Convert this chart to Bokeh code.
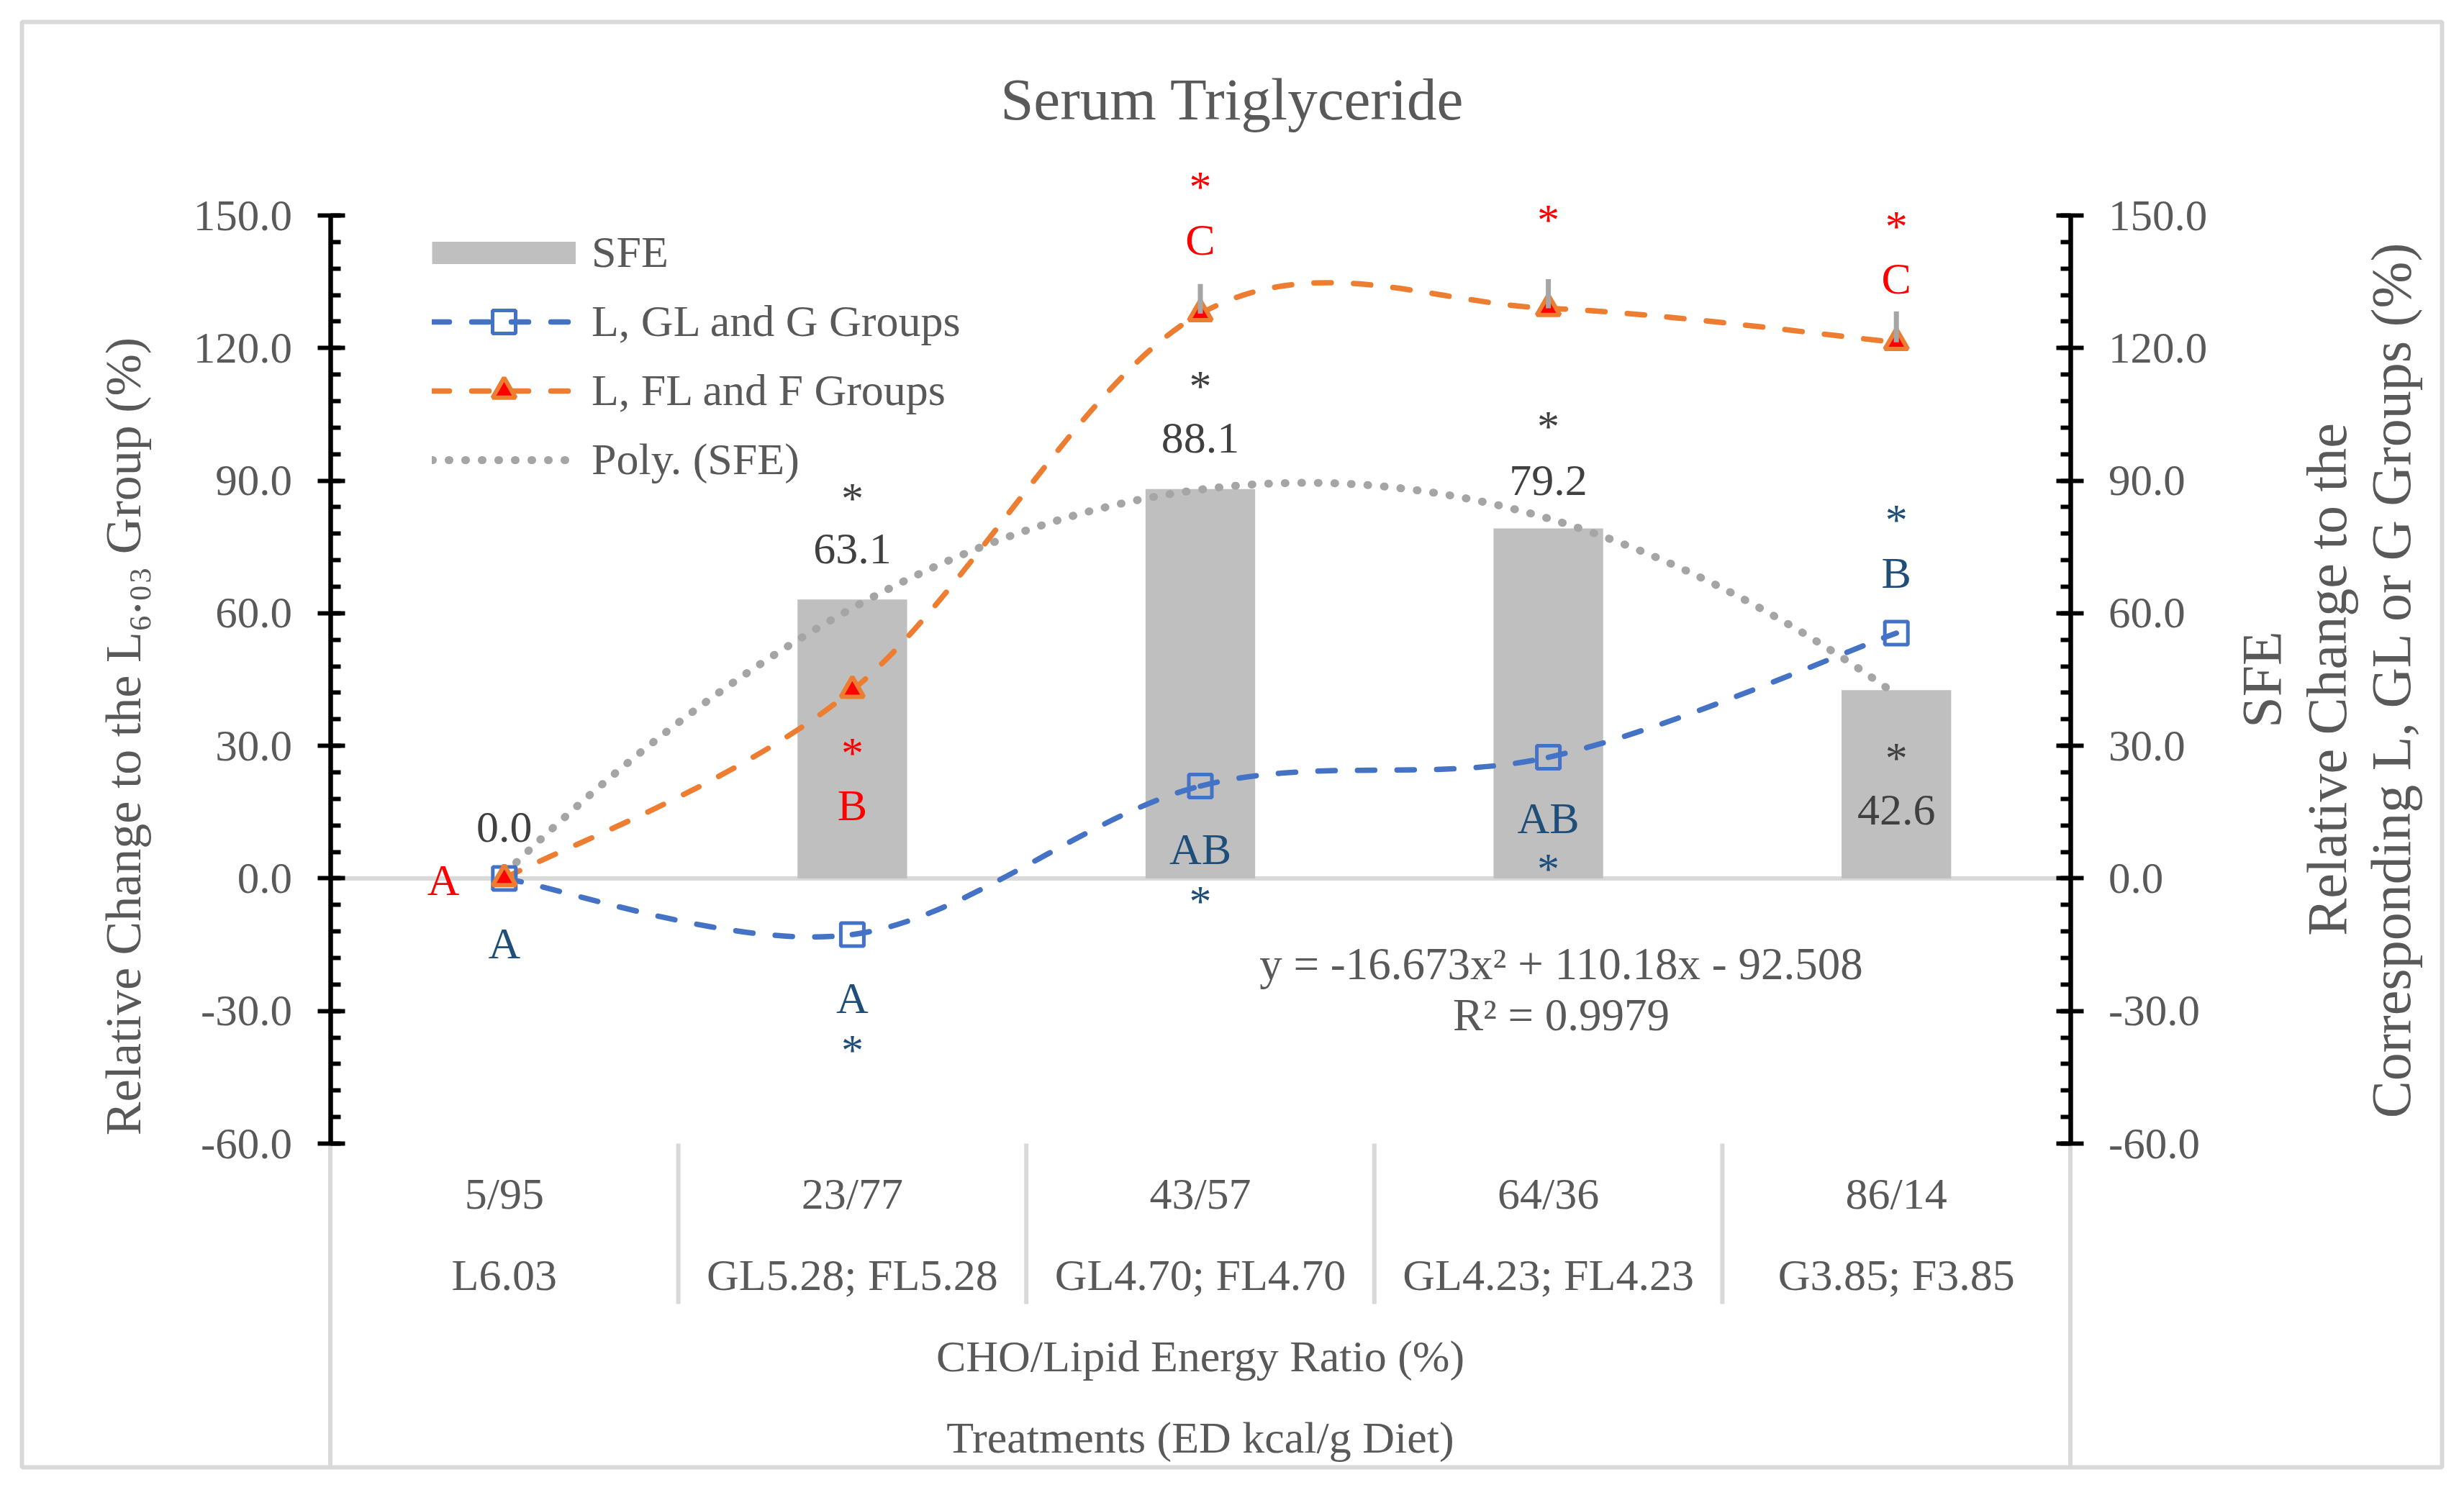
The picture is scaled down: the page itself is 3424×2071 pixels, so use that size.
import math
from bokeh.plotting import figure
from bokeh.models import (Range1d, LinearAxis, FixedTicker, NumeralTickFormatter,
                          Legend, LegendItem)
from bokeh.core.properties import value
from bokeh.embed import file_html
from bokeh.resources import INLINE

# ------------------------------------------------------------------ data
ratio_labels = ["5/95", "23/77", "43/57", "64/36", "86/14"]
treat_labels = ["L6.03", "GL5.28; FL5.28", "GL4.70; FL4.70", "GL4.23; FL4.23", "G3.85; F3.85"]
sfe = [0.0, 63.1, 88.1, 79.2, 42.6]
glg = [0.0, -12.7, 20.9, 27.4, 55.5]
flf = [0.0, 42.6, 127.8, 129.0, 121.3]
flf_err = [0.0, 0.0, 6.7, 6.6, 7.0]
poly_coef = [-16.673, 110.18, -92.508]
r_squared = "0.9979"
y_ticks = [-60, -30, 0, 30, 60, 90, 120, 150]

flf_letters = ["A", "B", "C", "", "C"]
glg_letters = ["A", "A", "AB", "AB", "B"]
sfe_stars = ["", "*", "*", "*", "*"]
flf_stars = ["", "*", "*", "*", "*"]
glg_stars = ["", "*", "*", "*", "*"]

# ------------------------------------------------------------------ annotation layout (centres, data units)
flf_letter_x = [-0.175, 1, 2, 3, 4]
flf_letter_y = [-0.4, 16.6, 144.6, 0.0, 135.7]
flf_star_y = [0.0, 29.8, 157.9, 150.4, 148.9]
glg_letter_y = [-14.6, -27.0, 6.6, 13.6, 69.1]
glg_star_y = [0.0, -37.4, -3.8, 3.5, 82.5]
sfe_star_y = [0.0, 87.4, 112.8, 103.7, 28.6]
sfe_label_y = [11.6, 74.5, 99.6, 90.0, 15.4]

# ------------------------------------------------------------------ styling
FONT = "Liberation Serif"
GREY_TXT = "#595959"
DARK_TXT = "#404040"
RED = "#FF0000"
NAVY = "#1F4E79"
BLUE = "#4472C4"
ORANGE = "#ED7D31"
BAR = "#BFBFBF"
TREND = "#A5A5A5"
RULE = "#D9D9D9"
DASH = "24 31"
DOTS = "1 22"

# page geometry (page pixels; the canvas starts at the page origin)
W, H = 3408, 2055
ORG = 0.0
AX_L = 458.5          # page x of the left value axis (category -0.5)
CAT_W = 483.6         # pixels per category
Y150 = 299.0          # page y of the 150 gridline
PX = 6.1429           # pixels per data unit

x_start = -0.5 - (AX_L - ORG) / CAT_W
x_end = x_start + W / CAT_W
y_end = 150.0 + (Y150 - ORG) / PX
y_start = y_end - H / PX

def X(page_x):
    return x_start + (page_x - ORG) / CAT_W

def Y(page_y):
    return y_end - (page_y - ORG) / PX

idx = list(range(len(sfe)))

p = figure(width=W, height=H, x_range=Range1d(x_start, x_end), y_range=Range1d(y_start, y_end),
           x_axis_location=None, y_axis_location=None, toolbar_location=None,
           output_backend="svg", min_border=0)
p.outline_line_color = None
p.background_fill_color = "white"
p.border_fill_color = "white"
p.grid.visible = False

# ------------------------------------------------------------------ frame rules
p.quad(left=[X(30)], right=[X(3393)], top=[Y(30)], bottom=[Y(2039)],
       fill_color=None, line_color=RULE, line_width=6)
p.segment(x0=[-0.5], y0=[0], x1=[4.5], y1=[0], line_color=RULE, line_width=6)
sep_x = [i + 0.5 for i in idx[:-1]]
p.segment(x0=sep_x, y0=[-60] * len(sep_x), x1=sep_x, y1=[Y(1812)] * len(sep_x),
          line_color=RULE, line_width=6)
p.segment(x0=[-0.5, 4.5], y0=[-60, -60], x1=[-0.5, 4.5], y1=[Y(2039)] * 2,
          line_color=RULE, line_width=6)

# ------------------------------------------------------------------ value axes
minor = [-60 + 6 * k for k in range(36)]
def tick_axis(loc):
    return LinearAxis(fixed_location=loc,
                      ticker=FixedTicker(ticks=y_ticks, minor_ticks=minor),
                      formatter=NumeralTickFormatter(format="0.0"), bounds=(-60, 150),
                      axis_line_color="black", axis_line_width=6.5,
                      major_tick_line_color="black", major_tick_line_width=6,
                      minor_tick_line_color="black", minor_tick_line_width=6,
                      major_tick_in=20, major_tick_out=18, minor_tick_in=14, minor_tick_out=0,
                      major_label_standoff=35, major_label_text_font=FONT,
                      major_label_text_font_size="61px", major_label_text_color=GREY_TXT)

p.add_layout(tick_axis(-0.5), "left")
p.add_layout(tick_axis(4.5), "right")

# ------------------------------------------------------------------ bars + trend
p.vbar(x=idx, top=sfe, bottom=0, width=0.315, fill_color=BAR, line_color=None)

a, b, c = poly_coef
def poly(xe):
    return a * xe * xe + b * xe + c
xe0, xe1 = 1.0, float(len(sfe))
cy = poly(xe0) + (2 * a * xe0 + b) * (xe1 - xe0) / 2
p.quadratic(x0=[xe0 - 1], y0=[poly(xe0)], x1=[xe1 - 1], y1=[poly(xe1)],
            cx=[(xe0 + xe1) / 2 - 1], cy=[cy],
            line_color=TREND, line_width=11, line_dash=DOTS, line_cap="round")

# ------------------------------------------------------------------ smoothed lines
def smooth(xs, ys):
    px_ = [xs[0]] + list(xs) + [xs[-1]]
    py_ = [ys[0]] + list(ys) + [ys[-1]]
    seg = dict(x0=[], y0=[], x1=[], y1=[], cx0=[], cy0=[], cx1=[], cy1=[])
    for i in range(len(xs) - 1):
        seg["x0"].append(px_[i + 1]); seg["y0"].append(py_[i + 1])
        seg["x1"].append(px_[i + 2]); seg["y1"].append(py_[i + 2])
        seg["cx0"].append(px_[i + 1] + (px_[i + 2] - px_[i]) / 6)
        seg["cy0"].append(py_[i + 1] + (py_[i + 2] - py_[i]) / 6)
        seg["cx1"].append(px_[i + 2] - (px_[i + 3] - px_[i + 1]) / 6)
        seg["cy1"].append(py_[i + 2] - (py_[i + 3] - py_[i + 1]) / 6)
    return seg

p.bezier(**smooth(idx, glg), line_color=BLUE, line_width=7.5, line_dash=DASH, line_cap="round")
p.bezier(**smooth(idx, flf), line_color=ORANGE, line_width=7.5, line_dash=DASH, line_cap="round")

blue_pts = p.scatter(x=idx, y=glg, marker="square", size=32, line_color=BLUE, line_width=5,
                     fill_color=None)
orange_pts = p.scatter(x=idx, y=flf, marker="triangle", size=32, line_color=ORANGE,
                       line_width=6, fill_color=RED)

ex = [i for i in idx if flf_err[i] > 0]
p.segment(x0=ex, y0=[flf[i] for i in ex], x1=ex, y1=[flf[i] + flf_err[i] for i in ex],
          line_color=TREND, line_width=7)

# ------------------------------------------------------------------ texts
def put_text(xs, ys, texts, color, size=62, star=False, angle=0.0):
    shift = (0.13 * size / PX) if star else 0.0
    keep = [(x, y, t) for x, y, t in zip(xs, ys, texts) if t]
    p.text(x=[k[0] for k in keep], y=[k[1] - shift for k in keep], text=[k[2] for k in keep],
           text_color=color, text_font=value(FONT), text_font_size=f"{size}px",
           text_align="center", text_baseline="middle", angle=angle)

put_text([X(1712)], [Y(137)], ["Serum Triglyceride"], GREY_TXT, size=83)

put_text(flf_letter_x, flf_letter_y, flf_letters, RED)
put_text(idx, flf_star_y, flf_stars, RED, star=True)
put_text(idx, glg_letter_y, glg_letters, NAVY)
put_text(idx, glg_star_y, glg_stars, NAVY, star=True)
put_text(idx, sfe_star_y, sfe_stars, DARK_TXT, star=True)
put_text(idx, sfe_label_y, [f"{v:.1f}" for v in sfe], DARK_TXT)

eq1 = f"y = {a}x\u00b2 + {b}x - {abs(c)}"
eq2 = f"R\u00b2 = {r_squared}"
put_text([X(2169)] * 2, [Y(1339), Y(1410)], [eq1, eq2], GREY_TXT, size=63)

put_text(idx, [Y(1658)] * 5, ratio_labels, GREY_TXT)
put_text(idx, [Y(1771)] * 5, treat_labels, GREY_TXT)
put_text([2, 2], [Y(1884), Y(1997)],
         ["CHO/Lipid Energy Ratio (%)", "Treatments (ED kcal/g Diet)"], GREY_TXT)

put_text([X(171)], [Y(1023)], ["Relative Change to the L\u2086.\u2080\u2083 Group (%)"],
         GREY_TXT, size=70, angle=math.pi / 2)
put_text([X(3142), X(3233), X(3322)], [Y(944)] * 3,
         ["SFE", "Relative Change to the", "Corresponding L, GL or G Groups (%)"],
         GREY_TXT, size=78, angle=math.pi / 2)

# ------------------------------------------------------------------ legend
nan = float("nan")
leg_sfe = p.line(x=[nan], y=[nan], line_color=BAR, line_width=31, line_cap="butt")
leg_blue = p.line(x=[nan], y=[nan], line_color=BLUE, line_width=7.5, line_dash=DASH,
                  line_cap="round")
leg_orange = p.line(x=[nan], y=[nan], line_color=ORANGE, line_width=7.5, line_dash=DASH,
                    line_cap="round")
leg_trend = p.line(x=[nan], y=[nan], line_color=TREND, line_width=11, line_dash=DOTS,
                   line_cap="round")
LEG_LEFT, LEG_TOP, LEG_H = 600.0, 310.5, 368.0
legend = Legend(items=[
    LegendItem(label=value("SFE"), renderers=[leg_sfe]),
    LegendItem(label=value("L, GL and G Groups"), renderers=[leg_blue, blue_pts]),
    LegendItem(label=value("L, FL and F Groups"), renderers=[leg_orange, orange_pts]),
    LegendItem(label=value("Poly. (SFE)"), renderers=[leg_trend]),
], location=(LEG_LEFT - ORG, H - (LEG_TOP - ORG) - LEG_H), glyph_width=200, glyph_height=80,
    spacing=16, padding=0, margin=0,
    label_standoff=22, label_text_font=FONT, label_text_font_size="62px",
    label_text_color=GREY_TXT, border_line_color=None, background_fill_alpha=0)
p.add_layout(legend)

open("out.html", "w").write(file_html(p, INLINE))
